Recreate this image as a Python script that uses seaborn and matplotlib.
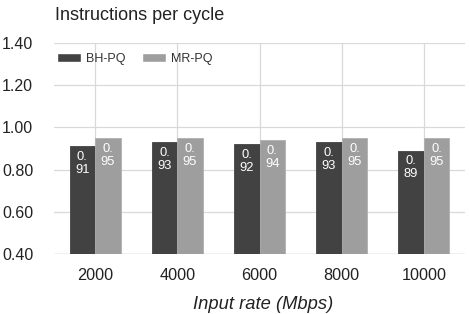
import matplotlib
matplotlib.use("Agg")
import matplotlib.pyplot as plt
import seaborn as sns
import pandas as pd

categories = ["2000", "4000", "6000", "8000", "10000"]
bh_pq = [0.91, 0.93, 0.92, 0.93, 0.89]
mr_pq = [0.95, 0.95, 0.94, 0.95, 0.95]
series_names = ["BH-PQ", "MR-PQ"]
yticks = [0.40, 0.60, 0.80, 1.00, 1.20, 1.40]

df = pd.DataFrame({
    "rate": categories * 2,
    "ipc": bh_pq + mr_pq,
    "series": [series_names[0]] * len(categories) + [series_names[1]] * len(categories),
})

sns.set_theme(style="white")
plt.rcParams["font.family"] = ["Liberation Sans", "DejaVu Sans"]

fig = plt.figure(figsize=(4.69, 3.14), dpi=100)
ax = fig.add_axes([54 / 469, 1 - 254 / 314, 411 / 469, 211 / 314])

palette = {"BH-PQ": "#424242", "MR-PQ": "#9e9e9e"}
sns.barplot(data=df, x="rate", y="ipc", hue="series", order=categories,
            hue_order=series_names, palette=palette, width=0.62, ax=ax,
            saturation=1, zorder=2, legend=True)

for cont, edge in zip(ax.containers, ["#424242", "#b0b0b0"]):
    for p in cont:
        p.set_edgecolor(edge)
        p.set_linewidth(0.6)
    vals = [p.get_height() for p in cont]
    for p, v in zip(cont, vals):
        s = f"{v:.2f}"
        ax.annotate(s[:2] + "\n" + s[2:], (p.get_x() + p.get_width() / 2, p.get_height()),
                    xytext=(0, -3.5), textcoords="offset points", ha="center", va="top",
                    color="white", fontsize=9.3, linespacing=1.1, zorder=3)

ax.set_ylim(0.40, 1.40)
ax.set_xlim(-0.5, len(categories) - 0.5)
ax.set_yticks(yticks)
ax.set_yticklabels([f"{t:.2f}" for t in yticks], fontsize=11.5, color="#222222")
ax.tick_params(axis="x", labelsize=11.7, colors="#222222", length=0, pad=10)
ax.tick_params(axis="y", length=0, pad=15)
ax.grid(True, axis="both", color="#d9d9d9", linewidth=0.9, zorder=0)
ax.set_axisbelow(True)
for s in ax.spines.values():
    s.set_visible(False)
ax.axhline(0.40, color="#cfcfcf", linewidth=1.0, zorder=1)

ax.set_xlabel("Input rate (Mbps)", fontsize=13.2, style="italic", color="#222222", labelpad=6)
ax.xaxis.set_label_coords(0.51, -0.2)
ax.set_ylabel("")

leg = ax.legend(loc="upper left", ncol=2, frameon=False, fontsize=9,
                handlelength=1.9, handleheight=0.75, columnspacing=1.3,
                handletextpad=0.45, borderaxespad=0.0, bbox_to_anchor=(-0.005, 0.975))
for t in leg.get_texts():
    t.set_color("#333333")

fig.text(55 / 469, 1 - 16 / 314, "Instructions per cycle", fontsize=13, color="#222222",
         ha="left", va="center")

fig.savefig("out.png", dpi=100)
